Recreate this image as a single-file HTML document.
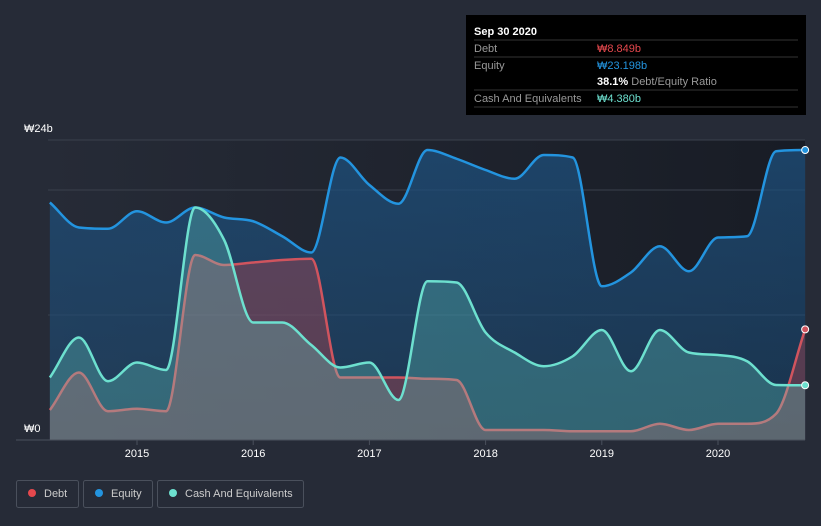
<!DOCTYPE html>
<html><head><meta charset="utf-8"><style>
body{margin:0;background:#262b37;font-family:"Liberation Sans",sans-serif;}
svg{display:block}
</style></head><body>
<svg width="821" height="526" id="chart">
<defs>
<linearGradient id="bgGrad" x1="0" y1="0" x2="1" y2="0"><stop offset="0" stop-color="#262b37"/><stop offset="1" stop-color="#181c25"/></linearGradient>
<linearGradient id="eqG" x1="0" y1="0" x2="0" y2="1"><stop offset="0" stop-color="#1d4f7c" stop-opacity="0.75"/><stop offset="1" stop-color="#1d4f7c" stop-opacity="0.45"/></linearGradient>
</defs>
<rect x="48" y="140" width="757" height="300" fill="url(#bgGrad)"/>
<g id="grid"></g>
<g id="series"></g>
<line x1="16" y1="440" x2="805" y2="440" stroke="#4a505c" stroke-width="1"/>
<g id="xticks"></g>
<text x="24" y="132" fill="#fff" font-size="11">₩24b</text>
<text x="24" y="432" fill="#fff" font-size="11">₩0</text>
<g>
<rect x="466" y="15" width="340" height="100" fill="#000"/>
<text x="474" y="35" fill="#fff" font-size="11" font-weight="bold">Sep 30 2020</text>
<line x1="474" y1="40" x2="798" y2="40" stroke="#333"/>
<text x="474" y="52" fill="#999" font-size="11">Debt</text>
<text x="597" y="52" fill="#e5484d" font-size="11">₩8.849b</text>
<line x1="474" y1="57" x2="798" y2="57" stroke="#333"/>
<text x="474" y="69" fill="#999" font-size="11">Equity</text>
<text x="597" y="69" fill="#2394df" font-size="11">₩23.198b</text>
<text x="597" y="85" fill="#fff" font-size="11" font-weight="bold">38.1% <tspan fill="#999" font-weight="normal">Debt/Equity Ratio</tspan></text>
<line x1="474" y1="90" x2="798" y2="90" stroke="#333"/>
<text x="474" y="102" fill="#999" font-size="11">Cash And Equivalents</text>
<text x="597" y="102" fill="#6de0cf" font-size="11">₩4.380b</text>
<line x1="474" y1="107" x2="798" y2="107" stroke="#333"/>
</g>
<g><rect x="16.5" y="480.5" width="62" height="27" rx="2" fill="none" stroke="#4a505c"/><circle cx="32" cy="493" r="4" fill="#e5484d"/><text x="44" y="497" fill="#ccc" font-size="11">Debt</text></g>
<g><rect x="83.5" y="480.5" width="69" height="27" rx="2" fill="none" stroke="#4a505c"/><circle cx="99" cy="493" r="4" fill="#2394df"/><text x="111" y="497" fill="#ccc" font-size="11">Equity</text></g>
<g><rect x="157.5" y="480.5" width="146" height="27" rx="2" fill="none" stroke="#4a505c"/><circle cx="173" cy="493" r="4" fill="#6de0cf"/><text x="185" y="497" fill="#ccc" font-size="11">Cash And Equivalents</text></g>
</svg>
<script>
const quarters=[2014.25,2014.5,2014.75,2015,2015.25,2015.5,2015.75,2016,2016.25,2016.5,2016.75,2017,2017.25,2017.5,2017.75,2018,2018.25,2018.5,2018.75,2019,2019.25,2019.5,2019.75,2020,2020.25,2020.5,2020.75];
const equity=[19.0,17.0,16.9,18.3,17.4,18.6,17.8,17.5,16.3,15.0,22.6,20.4,18.9,23.2,22.5,21.6,20.9,22.8,22.6,12.3,13.4,15.5,13.5,16.2,16.3,23.1,23.198];
const debt=[2.4,5.4,2.3,2.5,2.3,14.8,14.0,14.2,14.4,14.5,5.0,5.0,5.0,4.9,4.8,0.8,0.8,0.8,0.7,0.7,0.7,1.3,0.8,1.3,1.3,2.1,8.849];
const cash=[5.0,8.2,4.7,6.2,5.6,18.6,16.0,9.4,9.4,7.6,5.8,6.2,3.2,12.7,12.6,8.6,7.0,5.9,6.7,8.8,5.5,8.8,7.0,6.8,6.3,4.4,4.38];
const gridVals=[0,10,20,24];
const yearTicks=[2015,2016,2017,2018,2019,2020];
const NS="http://www.w3.org/2000/svg";
const xS=t=>137+(t-2015)*116.2;
const yS=v=>440-v*12.5;
function mk(tag,attrs,parent){const e=document.createElementNS(NS,tag);for(const k in attrs)e.setAttribute(k,attrs[k]);parent.appendChild(e);return e;}
function path(vals){
  const p=quarters.map((t,i)=>[xS(t),yS(vals[i])]);const n=p.length;
  const d=[],m=[];
  for(let i=0;i<n-1;i++)d.push((p[i+1][1]-p[i][1])/(p[i+1][0]-p[i][0]));
  for(let i=0;i<n;i++){if(i==0)m.push(d[0]);else if(i==n-1)m.push(d[n-2]);else m.push(d[i-1]*d[i]<=0?0:(d[i-1]+d[i])/2);}
  for(let i=0;i<n-1;i++){if(d[i]==0){m[i]=m[i+1]=0;continue;}const a=m[i]/d[i],b=m[i+1]/d[i],s=a*a+b*b;if(s>9){const t=3/Math.sqrt(s);m[i]=t*a*d[i];m[i+1]=t*b*d[i];}}
  let s=`M${p[0][0]},${p[0][1]}`;
  for(let i=0;i<n-1;i++){const h=(p[i+1][0]-p[i][0])/3;s+=`C${p[i][0]+h},${p[i][1]+m[i]*h} ${p[i+1][0]-h},${p[i+1][1]-m[i+1]*h} ${p[i+1][0]},${p[i+1][1]}`;}
  return s;
}
const grid=document.getElementById('grid');
gridVals.forEach(v=>{const l=mk('line',{x1:48,x2:805,y1:yS(v),y2:yS(v),stroke:'#3a404c','stroke-width':1},grid);

});
const xt=document.getElementById('xticks');
yearTicks.forEach(y=>{const l=mk('line',{x1:xS(y),x2:xS(y),y1:440,y2:445,stroke:'#4a505c'},xt);


const t=mk('text',{x:xS(y),y:457,fill:'#fff','font-size':11,'text-anchor':'middle'},xt);t.textContent=y;

});
const g=document.getElementById('series');
const x0=xS(quarters[0]),x1=xS(quarters[quarters.length-1]);
[[equity,'url(#eqG)','#2394df','equity'],[debt,'rgba(229,72,77,0.3)','#d0545e','debt'],[cash,'rgba(109,224,207,0.28)','#6de0cf','cash']].forEach(([v,f,c,n])=>{
  const d=path(v);
  const a=mk('path',{d:d+`L${x1},440L${x0},440Z`,fill:f},g);
  
  
  const l=mk('path',{d:d,fill:'none',stroke:c,'stroke-width':2.5},g);
  
  
  const dot=mk('circle',{cx:x1,cy:yS(v[v.length-1]),r:3.5,fill:c,stroke:'#fff','stroke-width':1},g);
  
  
});
</script>
</body></html>
